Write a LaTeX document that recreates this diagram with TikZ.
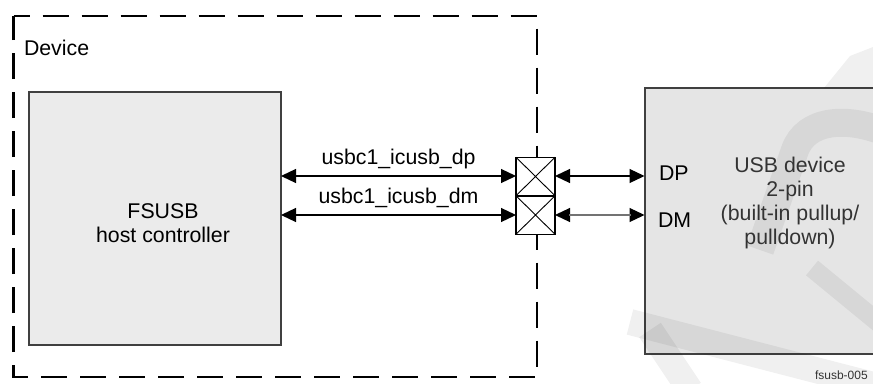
\documentclass[tikz,border=0pt]{standalone}
\usepackage{fontspec}
\setmainfont{Liberation Sans}
\usetikzlibrary{arrows.meta}
\begin{document}
\begin{tikzpicture}[x=1pt,y=-1pt,
  every node/.style={inner sep=0pt,outer sep=0pt},
  txt/.style={font=\fontsize{21.3}{24}\selectfont,align=center},
  blk/.style={draw=black!75,line width=1.2pt},
  pad/.style={draw=black,line width=1.5pt,fill=white,minimum width=39pt,minimum height=38.5pt},
  bus/.style={line width=1.2pt,{Triangle[length=15pt,width=14pt]}-{Triangle[length=15pt,width=14pt]}},
  wm/.style={fill=black,fill opacity=0.06,draw=none},
  wms/.style={draw=black,draw opacity=0.06}]
\useasboundingbox (0,0) rectangle (873,383);
\clip (0,0) rectangle (873,383);
% dashed device boundary
\draw[line width=2.6pt,dash pattern=on 26pt off 13pt,dash phase=10pt]
  (13.5,16) -- (537,16) -- (537,377) -- (13.5,377) -- cycle;
\node[txt,anchor=west] (dev) at (24,48) {Device};
% host controller
\path[blk,fill=black!8] (29,92) rectangle (281,345);
\coordinate (hc) at (281,176);
\coordinate (hcb) at (281,215);
\node[txt] (fs) at (163,223) {FSUSB\\host controller};
% USB device box
\path[blk,fill=black!10] (645,88) rectangle (885,354);
% watermark
\path[wms,line width=28pt] (760,250) -- (795,150) .. controls (806,120) and (845,116) .. (885,132);
\path[wms,line width=19pt] (812,268) -- (885,328);
\path[wm] (824,88) -- (850,56) -- (873,47) -- (873,88) -- cycle;
\path[wms,line width=26pt] (630,322) -- (885,388);
\path[wms,line width=26pt] (650,330) -- (690,390);
% pads
\node[pad] (p1) at (535.5,176.5) {};
\node[pad] (p2) at (535.5,215) {};
\draw[line width=0.9pt] (p1.north west) -- (p1.south east) (p1.north east) -- (p1.south west);
\draw[line width=0.9pt] (p2.north west) -- (p2.south east) (p2.north east) -- (p2.south west);
\draw[line width=1.5pt] (p1.north west) rectangle (p2.south east);
% connectors left
\draw[bus] (hc) -- (hc -| p1.west) node[midway,above=7pt,txt] (ldp) {usbc1\_icusb\_dp};
\draw[bus] (hcb) -- (hcb -| p2.west) node[midway,above=7pt,txt] (ldm) {usbc1\_icusb\_dm};
% connectors right
\coordinate (dpin) at (644.5,176);
\coordinate (dmin) at (644.5,215);
\draw[bus] (p1.east |- dpin) -- (dpin);
\draw[bus] (p2.east |- dmin) -- (dmin);
\draw[line width=1.3pt,black!55,shorten <=14pt,shorten >=14pt] (p2.east |- dmin) -- (dmin);
% labels
\node[txt,anchor=west] (dp) at (659,173) {DP};
\node[txt,anchor=west] (dm) at (658,220) {DM};
\node[txt,text=black!80] (usb) at (790,203) {USB device\\2-pin\\(built-in pullup/\\pulldown)};
\node[anchor=west,font=\fontsize{12}{14}\selectfont,text=black!80] (fig) at (815,375) {fsusb-005};
\end{tikzpicture}
\end{document}
